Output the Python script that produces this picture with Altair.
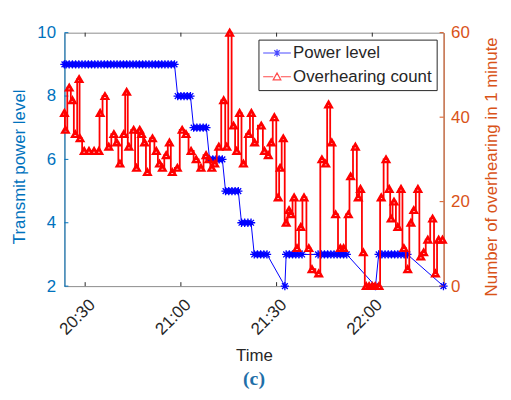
import altair as alt
import pandas as pd

# ---- data (minutes relative to 20:30) ----
power_min = [-6.5, -6, -5, -4, -3, -2, -1, 0, 1, 2, 3, 4, 5, 6, 7, 8, 9, 10, 11, 12,
             13, 14, 15, 16, 17, 18, 19, 20, 21, 22, 23, 24, 25, 26, 27, 28,
             29, 30, 31, 32, 33,
             34, 35, 36, 37, 38,
             39, 40, 41, 42, 43,
             44, 45, 46, 47, 48,
             49, 50, 51, 52,
             53, 54, 55, 56, 57,
             62.6,
             63, 64, 65, 66, 67, 68,
             73, 74, 75, 76, 77, 78, 79, 80, 81, 82,
             91,
             92, 93, 94, 95, 96, 97, 98, 99, 100, 101,
             112.3]
power_val = [9, 9, 9, 9, 9, 9, 9, 9, 9, 9, 9, 9, 9, 9, 9, 9, 9, 9, 9, 9,
             9, 9, 9, 9, 9, 9, 9, 9, 9, 9, 9, 9, 9, 9, 9, 9,
             8, 8, 8, 8, 8,
             7, 7, 7, 7, 7,
             6, 6, 6, 6, 6,
             5, 5, 5, 5, 5,
             4, 4, 4, 4,
             3, 3, 3, 3, 3,
             2,
             3, 3, 3, 3, 3, 3,
             3, 3, 3, 3, 3, 3, 3, 3, 3, 3,
             2,
             3, 3, 3, 3, 3, 3, 3, 3, 3, 3,
             2]

count_min = [-6.5, -6.2, -5.0, -4.0, -3.1, -1.9, -1.6, -0.3, 1.2, 2.8, 4.3, 4.7, 6.2, 7.4,
             9.0, 9.9, 10.9, 12.1, 13.0, 13.7, 15.2, 16.1, 17.1, 17.7, 18.6, 19.5, 21.1,
             22.3, 23.3, 24.2, 25.4, 26.4, 27.3, 28.9, 30.4, 31.6, 33.2, 34.8, 36.3, 37.9,
             38.8, 39.7, 40.6, 41.9, 43.4, 44.4, 45.3, 46.5, 47.5, 48.4, 49.6, 51.2, 52.1,
             53.1, 55.2, 56.2, 57.4, 58.3, 59.3, 60.5, 61.1, 62.1, 63.0, 63.9, 64.5, 65.5,
             66.4, 67.6, 68.6, 70.1, 71.1, 73.2, 74.2, 75.4, 76.3, 77.3, 78.5, 80.0, 81.0,
             82.5, 83.2, 84.7, 85.6, 86.3, 87.2, 88.1, 89.0, 90.0, 90.9, 92.1, 92.8, 94.3,
             95.3, 95.9, 96.8, 98.0, 99.0, 99.9, 101.1, 102.1, 103.0, 104.3, 105.2, 106.1,
             107.4, 108.9, 109.8, 110.8, 112.0]
count_val = [41, 37, 47, 44, 36, 49, 35, 32, 32, 32, 32, 41, 45, 33,
             36, 34, 29, 36, 46, 33, 37, 28, 37, 36, 34, 27, 35,
             32, 29, 28, 31, 34, 27, 28, 37, 36, 32, 30, 28, 31,
             30, 28, 29, 33, 44, 33, 60, 38, 32, 41, 29, 36, 41,
             34, 38, 32, 31, 34, 40, 21, 28, 35, 15, 18, 17, 21,
             9, 14, 21, 9, 4, 3, 30, 29, 43, 34, 17, 9, 9,
             17, 26, 33, 21, 23, 8, 0, 0, 0, 0, 0, 21, 30,
             23, 16, 20, 14, 23, 9, 4, 15, 18, 23, 7, 8,
             11, 16, 3, 11, 11]

x_tick_labels = ["20:30", "21:00", "21:30", "22:00"]
left_tick_values = [2, 4, 6, 8, 10]
right_tick_values = [0, 20, 40, 60]
series_names = ["Power level", "Overhearing count"]

# ---- styling ----
BLUE_AX = "#0072BD"
ORANGE_AX = "#D95319"
DARK = "#262626"
FONT = "Liberation Sans"
W, H = 383, 256

base = pd.Timestamp("2020-01-01 20:30:00")


def to_time(mins):
    return [base + pd.Timedelta(minutes=m) for m in mins]


def dt(hh, mm, ss=0):
    return alt.DateTime(year=2020, month=1, date=1, hours=hh, minutes=mm, seconds=ss)


power_df = pd.DataFrame({"t": to_time(power_min), "power": power_val})
count_df = pd.DataFrame({"t": to_time(count_min), "count": count_val})
xt_df = pd.DataFrame({"t": [pd.Timestamp("2020-01-01 " + s) for s in x_tick_labels]})
lt_df = pd.DataFrame({"power": left_tick_values})
rt_df = pd.DataFrame({"count": right_tick_values})
leg_df = pd.DataFrame({"series": series_names})

x_values = [dt(int(s[:2]), int(s[3:])) for s in x_tick_labels]

x_enc = alt.X(
    "t:T",
    scale=alt.Scale(domain=[dt(20, 23, 30), dt(22, 22, 21)]),
    axis=alt.Axis(
        title="Time", values=x_values, format="%H:%M", labelAngle=315,
        labelAlign="right", labelBaseline="middle", labelOffset=7, labelPadding=16,
        ticks=False, tickSize=0, domain=False, grid=False,
        labelFont=FONT, titleFont=FONT, labelFontSize=17, titleFontSize=17,
        labelColor=DARK, titleColor=DARK, titleFontWeight="normal", titlePadding=10,
    ),
)

y_left = alt.Y(
    "power:Q",
    scale=alt.Scale(domain=[2, 10], nice=False, zero=False),
    axis=alt.Axis(
        title="Transmit power level", values=left_tick_values, format="d",
        ticks=False, tickSize=0, grid=False,
        domainColor=BLUE_AX, labelColor=BLUE_AX, titleColor=BLUE_AX,
        labelFont=FONT, titleFont=FONT, labelFontSize=17, titleFontSize=17,
        titleFontWeight="normal", labelPadding=9,
        titleAngle=270, titleBaseline="middle", titleAlign="center", titleX=-45, titleY=135,
    ),
)

y_right = alt.Y(
    "count:Q",
    scale=alt.Scale(domain=[0, 60], nice=False),
    axis=alt.Axis(
        orient="right", title="Number of overhearing in 1 minute",
        values=right_tick_values, format="d",
        ticks=False, tickSize=0, grid=False,
        domainColor=ORANGE_AX, labelColor=ORANGE_AX, titleColor=ORANGE_AX,
        labelFont=FONT, titleFont=FONT, labelFontSize=17, titleFontSize=17,
        titleFontWeight="normal", labelPadding=7,
        titleAngle=270, titleBaseline="middle", titleAlign="center", titleX=48, titleY=135,
    ),
)

ASTERISK = "M-1,0H1M0,-1V1M-0.7,-0.7L0.7,0.7M-0.7,0.7L0.7,-0.7"
LEG_STAR = "M-1.25,0H2.75M0.2,0H1.3M0.75,-0.55V0.55M0.36,-0.39L1.14,0.39M0.36,0.39L1.14,-0.39"
LEG_TRI = "M-1.25,0H0.2M1.3,0H2.75M0.2,0.45L0.75,-0.55L1.3,0.45Z"

blue_line = alt.Chart(power_df).mark_line(color="#0000FF", strokeWidth=1).encode(x=x_enc, y=y_left)
blue_pts = alt.Chart(power_df).mark_point(
    shape=ASTERISK, size=70, filled=False, color="#0000FF", strokeWidth=1.3, opacity=1
).encode(x=x_enc, y=y_left)
left_ticks = alt.Chart(lt_df).mark_rule(color=BLUE_AX, strokeWidth=1).encode(
    y=y_left, x=alt.value(0), x2=alt.value(4))
bottom_ticks = alt.Chart(xt_df).mark_rule(color=DARK, strokeWidth=1).encode(
    x=x_enc, y=alt.value(H), y2=alt.value(H - 4))
top_ticks = alt.Chart(xt_df).mark_rule(color=DARK, strokeWidth=1).encode(
    x=x_enc, y=alt.value(0), y2=alt.value(4))

left_layer = alt.layer(blue_line, blue_pts, left_ticks, bottom_ticks, top_ticks)

red_line = alt.Chart(count_df).mark_line(
    color="#FF0000", strokeWidth=1.8, interpolate="step"
).encode(x=x_enc, y=y_right)
red_pts = alt.Chart(count_df).mark_point(
    shape="triangle-up", size=42, filled=False, color="#FF0000", strokeWidth=2.4, opacity=1
).encode(x=x_enc, y=y_right)
right_ticks = alt.Chart(rt_df).mark_rule(color=ORANGE_AX, strokeWidth=1).encode(
    y=y_right, x=alt.value(W - 4), x2=alt.value(W))

right_layer = alt.layer(red_line, red_pts, right_ticks)

leg_props = dict(
    orient="top-right", offset=7, padding=5, strokeColor=DARK, fillColor="white",
    labelFont=FONT, labelFontSize=17, labelColor=DARK, symbolSize=196,
    symbolStrokeWidth=1.2, labelOffset=13, rowPadding=6, cornerRadius=0,
)
legend_layer = alt.Chart(leg_df).mark_point(filled=False).encode(
    color=alt.Color("series:N", scale=alt.Scale(domain=series_names, range=["#0000FF", "#FF0000"]),
                    title=None, legend=alt.Legend(**leg_props)),
    shape=alt.Shape("series:N", scale=alt.Scale(domain=series_names, range=[LEG_STAR, LEG_TRI]),
                    title=None, legend=alt.Legend(**leg_props)),
).transform_filter("false")

chart = alt.layer(left_layer, right_layer, legend_layer).resolve_scale(
    y="independent"
).properties(
    width=W, height=H,
    padding={"left": 57, "top": 23, "right": 60, "bottom": 104},
    autosize=alt.AutoSizeParams(type="none"),
    title=alt.TitleParams(
        text="(c)", orient="bottom", anchor="middle", frame="group",
        font="Liberation Serif", fontSize=20, fontWeight="bold", color="#1F6FA8", offset=6,
    ),
).configure_view(stroke="#8c8c8c", strokeWidth=1)

chart.save("out.html", embed_options={"renderer": "svg", "actions": False})
